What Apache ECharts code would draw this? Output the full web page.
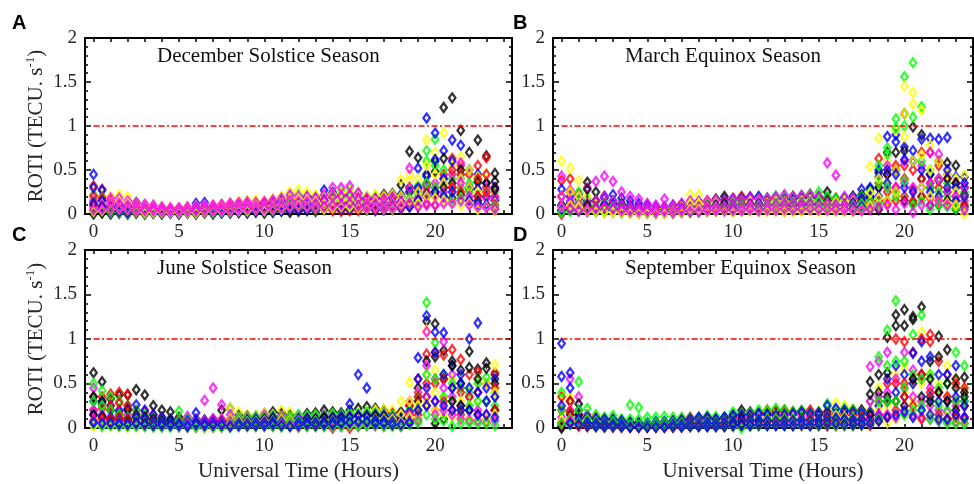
<!DOCTYPE html>
<html>
<head>
<meta charset="utf-8">
<script src="https://cdn.jsdelivr.net/npm/echarts@6/dist/echarts.min.js"></script>
<style>
  html, body { margin: 0; padding: 0; background: #fff; }
  #chart { width: 974px; height: 484px; }
</style>
</head>
<body>
<div id="chart"></div>
<script>
// half-hour time steps (UT)
const hours = [0, 0.5, 1, 1.5, 2, 2.5, 3, 3.5, 4, 4.5, 5, 5.5, 6, 6.5, 7, 7.5,
  8, 8.5, 9, 9.5, 10, 10.5, 11, 11.5, 12, 12.5, 13, 13.5, 14, 14.5, 15, 15.5,
  16, 16.5, 17, 17.5, 18, 18.5, 19, 19.5, 20, 20.5, 21, 21.5, 22, 22.5, 23, 23.5]
const hourTicks = [0, 1, 2, 3, 4, 5, 6, 7, 8, 9, 10, 11, 12, 13, 14, 15, 16, 17, 18, 19, 20, 21, 22, 23, 24]
const xLabels = [0, 5, 10, 15, 20]
const threshold = 1

// December solstice season
const decBlack = [
  [0.08, 0.06, 0.05, 0.04, 0.06, 0.13, 0.08, 0.06, 0.05, 0.04, 0.04, 0.05, 0.05, 0.06, 0.05, 0.06,
   0.07, 0.08, 0.08, 0.09, 0.1, 0.12, 0.13, 0.14, 0.15, 0.14, 0.17, 0.2, 0.19, 0.22, 0.22, 0.18,
   0.17, 0.19, 0.22, 0.23, 0.33, 0.71, 0.64, 0.33, 0.6, 1.21, 1.32, 0.95, 0.7, 0.84, 0.66, 0.46],
  [0.03, 0.02, 0.03, 0.02, 0.03, 0.04, 0.03, 0.02, 0.02, 0.03, 0.02, 0.03, 0.02, 0.03, 0.03, 0.02,
   0.03, 0.04, 0.03, 0.05, 0.04, 0.06, 0.07, 0.08, 0.08, 0.07, 0.09, 0.1, 0.12, 0.14, 0.13, 0.11,
   0.1, 0.09, 0.12, 0.14, 0.2, 0.3, 0.25, 0.45, 0.48, 0.63, 0.35, 0.5, 0.28, 0.36, 0.35, 0.37],
  [0, 0.01, 0, 0.01, 0, 0.01, 0, 0.01, 0, 0.01, 0, 0.01, 0, 0.01, 0, 0.01,
   0.01, 0.02, 0.01, 0.02, 0.01, 0.02, 0.03, 0.02, 0.03, 0.04, 0.03, 0.05, 0.06, 0.05, 0.07, 0.06,
   0.05, 0.06, 0.05, 0.07, 0.08, 0.1, 0.15, 0.2, 0.25, 0.3, 0.18, 0.22, 0.12, 0.15, 0.1, 0.28]
]
const decRed = [
  [0.32, 0.28, 0.15, 0.12, 0.1, 0.08, 0.07, 0.06, 0.05, 0.05, 0.06, 0.05, 0.06, 0.07, 0.08, 0.1,
   0.12, 0.1, 0.11, 0.12, 0.13, 0.15, 0.14, 0.16, 0.18, 0.2, 0.17, 0.18, 0.2, 0.22, 0.15, 0.18,
   0.16, 0.17, 0.2, 0.18, 0.2, 0.25, 0.28, 0.35, 0.3, 0.45, 0.63, 0.55, 0.45, 0.55, 0.64, 0.3],
  [0.2, 0.18, 0.08, 0.06, 0.04, 0.03, 0.03, 0.02, 0.02, 0.03, 0.02, 0.03, 0.03, 0.04, 0.05, 0.06,
   0.07, 0.06, 0.07, 0.08, 0.09, 0.1, 0.08, 0.1, 0.12, 0.1, 0.09, 0.12, 0.1, 0.06, 0.05, 0.08,
   0.09, 0.1, 0.12, 0.1, 0.12, 0.14, 0.18, 0.25, 0.2, 0.35, 0.5, 0.45, 0.3, 0.4, 0.45, 0.2],
  [0.1, 0.08, 0.04, 0.02, 0.02, 0.01, 0.01, 0.01, 0.01, 0.01, 0.01, 0.01, 0.01, 0.02, 0.02, 0.03,
   0.03, 0.02, 0.03, 0.04, 0.04, 0.05, 0.04, 0.05, 0.06, 0.05, 0.05, 0.06, 0.04, 0.03, 0.04, 0.04,
   0.05, 0.04, 0.06, 0.05, 0.06, 0.08, 0.1, 0.12, 0.1, 0.2, 0.3, 0.25, 0.15, 0.2, 0.25, 0.1]
]
const decGreen = [
  [0.22, 0.2, 0.12, 0.1, 0.08, 0.06, 0.05, 0.05, 0.04, 0.04, 0.05, 0.04, 0.06, 0.07, 0.06, 0.08,
   0.09, 0.1, 0.11, 0.12, 0.13, 0.14, 0.16, 0.2, 0.22, 0.2, 0.18, 0.2, 0.25, 0.26, 0.28, 0.24,
   0.2, 0.2, 0.18, 0.2, 0.22, 0.28, 0.32, 0.72, 0.85, 0.5, 0.4, 0.45, 0.35, 0.38, 0.3, 0.25],
  [0.12, 0.1, 0.06, 0.05, 0.04, 0.03, 0.03, 0.02, 0.02, 0.02, 0.03, 0.02, 0.03, 0.04, 0.03, 0.05,
   0.05, 0.06, 0.06, 0.07, 0.08, 0.08, 0.1, 0.12, 0.14, 0.12, 0.1, 0.12, 0.15, 0.16, 0.18, 0.15,
   0.12, 0.13, 0.1, 0.12, 0.14, 0.18, 0.22, 0.6, 0.55, 0.35, 0.3, 0.3, 0.25, 0.22, 0.2, 0.15],
  [0.05, 0.04, 0.02, 0.02, 0.01, 0.01, 0.01, 0.01, 0.01, 0.01, 0.01, 0.01, 0.01, 0.02, 0.01, 0.02,
   0.02, 0.03, 0.03, 0.03, 0.04, 0.04, 0.05, 0.06, 0.07, 0.06, 0.05, 0.06, 0.08, 0.08, 0.09, 0.07,
   0.06, 0.07, 0.05, 0.06, 0.07, 0.1, 0.12, 0.35, 0.3, 0.2, 0.15, 0.18, 0.12, 0.1, 0.1, 0.08]
]
const decBlue = [
  [0.45, 0.27, 0.12, 0.1, 0.08, 0.07, 0.06, 0.05, 0.05, 0.04, 0.06, 0.07, 0.12, 0.13, 0.08, 0.07,
   0.08, 0.09, 0.1, 0.11, 0.12, 0.12, 0.14, 0.15, 0.16, 0.18, 0.2, 0.27, 0.24, 0.22, 0.2, 0.22,
   0.18, 0.17, 0.18, 0.2, 0.22, 0.25, 0.52, 1.09, 0.92, 0.72, 0.84, 0.78, 0.5, 0.45, 0.35, 0.3],
  [0.3, 0.15, 0.08, 0.06, 0.05, 0.04, 0.04, 0.03, 0.03, 0.03, 0.03, 0.04, 0.06, 0.07, 0.05, 0.04,
   0.05, 0.05, 0.06, 0.06, 0.07, 0.07, 0.08, 0.09, 0.1, 0.1, 0.12, 0.15, 0.14, 0.12, 0.12, 0.13,
   0.11, 0.1, 0.1, 0.12, 0.14, 0.15, 0.3, 0.43, 0.62, 0.4, 0.6, 0.4, 0.3, 0.28, 0.2, 0.15],
  [0.12, 0.08, 0.04, 0.03, 0.02, 0.02, 0.02, 0.01, 0.01, 0.01, 0.01, 0.02, 0.03, 0.03, 0.02, 0.02,
   0.02, 0.02, 0.03, 0.03, 0.03, 0.04, 0.04, 0.05, 0.05, 0.05, 0.06, 0.07, 0.07, 0.06, 0.06, 0.07,
   0.06, 0.05, 0.05, 0.06, 0.07, 0.08, 0.15, 0.22, 0.25, 0.2, 0.25, -0.01, 0.15, 0.12, 0.1, 0.05]
]
const decYellow = [
  [0.15, 0.18, 0.2, 0.22, 0.2, 0.12, 0.1, 0.09, 0.08, 0.07, 0.07, 0.08, 0.09, 0.1, 0.1, 0.11,
   0.12, 0.14, 0.15, 0.16, 0.15, 0.17, 0.2, 0.25, 0.27, 0.25, 0.22, 0.2, 0.22, 0.24, 0.26, 0.22,
   0.2, 0.22, 0.2, 0.22, 0.39, 0.45, 0.4, 0.84, 0.7, 0.92, 0.55, 0.65, 0.5, 0.42, 0.45, 0.2],
  [0.08, 0.1, 0.12, 0.14, 0.12, 0.07, 0.06, 0.05, 0.04, 0.04, 0.04, 0.05, 0.05, 0.06, 0.06, 0.07,
   0.07, 0.08, 0.09, 0.1, 0.09, 0.1, 0.12, 0.15, 0.17, 0.16, 0.14, 0.12, 0.14, 0.15, 0.16, 0.13,
   0.12, 0.14, 0.12, 0.13, 0.2, 0.38, 0.25, 0.55, 0.45, 0.35, 0.3, 0.4, 0.3, 0.25, 0.25, 0.12],
  [0.03, 0.04, 0.05, 0.06, 0.05, 0.03, 0.02, 0.02, 0.02, 0.02, 0.02, 0.02, 0.02, 0.03, 0.03, 0.03,
   0.03, 0.04, 0.04, 0.05, 0.04, 0.05, 0.06, 0.08, 0.09, 0.08, 0.07, 0.06, 0.07, 0.08, 0.08, 0.07,
   0.06, 0.07, 0.06, 0.06, 0.1, 0.15, 0.12, 0.2, 0.18, 0.15, 0.12, 0.1, 0.12, 0.05, 0.08, 0.04]
]
const decMagenta = [
  [0.15, 0.16, 0.18, 0.18, 0.15, 0.12, 0.11, 0.1, 0.08, 0.07, 0.07, 0.08, 0.09, 0.1, 0.1, 0.11,
   0.12, 0.13, 0.14, 0.13, 0.14, 0.16, 0.18, 0.22, 0.2, 0.2, 0.18, 0.22, 0.3, 0.3, 0.32, 0.24,
   0.18, 0.17, 0.17, 0.19, 0.2, 0.52, 0.25, 0.3, 0.35, 0.4, 0.45, 0.58, 0.3, 0.28, 0.3, 0.28],
  [0.1, 0.1, 0.12, 0.12, 0.1, 0.08, 0.07, 0.06, 0.05, 0.05, 0.05, 0.05, 0.06, 0.07, 0.07, 0.07,
   0.08, 0.09, 0.1, 0.09, 0.1, 0.11, 0.12, 0.15, 0.14, 0.14, 0.12, 0.15, 0.2, 0.2, 0.22, 0.17,
   0.12, 0.12, 0.12, 0.13, 0.14, 0.3, 0.17, 0.2, 0.22, 0.25, 0.3, 0.35, 0.2, 0.2, 0.18, 0.18],
  [0.05, 0.05, 0.06, 0.06, 0.05, 0.04, 0.04, 0.04, 0.03, 0.03, 0.03, 0.03, 0.03, 0.04, 0.04, 0.04,
   0.04, 0.05, 0.06, 0.05, 0.06, 0.06, 0.07, 0.08, 0.08, 0.08, 0.07, 0.08, 0.1, 0.1, 0.12, 0.09,
   0.07, 0.07, 0.06, 0.07, 0.08, 0.12, 0.08, 0.1, 0.1, 0.12, 0.12, 0.15, 0.1, 0.08, 0.07, 0.06]
]

// March equinox season
const marBlack = [
  [0.2, 0.25, 0.22, 0.36, 0.25, 0.2, 0.15, 0.12, 0.1, 0.08, 0.06, 0.06, 0.07, 0.08, 0.1, 0.12,
   0.14, 0.15, 0.17, 0.2, 0.15, 0.16, 0.17, 0.18, 0.15, 0.17, 0.16, 0.2, 0.18, 0.17, 0.18, 0.25,
   0.15, 0.17, 0.2, 0.22, 0.28, 0.47, 0.7, 0.7, 1.14, 0.99, 0.9, 0.45, 0.6, 0.58, 0.55, 0.3],
  [0.1, 0.12, 0.1, 0.28, 0.15, 0.1, 0.08, 0.06, 0.05, 0.04, 0.03, 0.03, 0.04, 0.05, 0.06, 0.07,
   0.08, 0.09, 0.1, 0.12, 0.08, 0.1, 0.1, 0.11, 0.1, 0.1, 0.09, 0.12, 0.1, 0.1, 0.11, 0.15,
   0.09, 0.1, 0.12, 0.14, 0.18, 0.3, 0.45, 0.5, 0.72, 0.6, 0.4, 0.3, 0.38, 0.4, 0.35, 0.22],
  [0.04, 0.05, 0.04, 0.1, 0.06, 0.04, 0.03, 0.02, 0.02, 0.01, 0.01, 0.01, 0.02, 0.02, 0.02, 0.03,
   0.03, 0.04, 0.04, 0.05, 0.04, 0.04, 0.05, 0.05, 0.04, 0.05, 0.04, 0.05, 0.04, 0.05, 0.05, 0.06,
   0.04, 0.05, 0.06, 0.06, 0.08, 0.05, 0.15, 0.25, 0.15, 0.12, 0.2, 0.1, 0.1, 0.15, 0.05, 0.08]
]
const marRed = [
  [0.38, 0.4, 0.2, 0.15, 0.15, 0.12, 0.1, 0.1, 0.08, 0.07, 0.06, 0.05, 0.05, 0.06, 0.08, 0.1,
   0.12, 0.14, 0.15, 0.16, 0.18, 0.2, 0.19, 0.18, 0.16, 0.15, 0.14, 0.15, 0.18, 0.2, 0.18, 0.15,
   0.18, 0.15, 0.16, 0.18, 0.2, 0.63, 0.45, 0.55, 0.55, 0.5, 0.7, 0.7, 0.55, 0.45, 0.35, 0.3],
  [0.2, 0.25, 0.12, 0.08, 0.08, 0.06, 0.05, 0.05, 0.04, 0.03, 0.03, 0.02, 0.03, 0.03, 0.04, 0.05,
   0.06, 0.07, 0.08, 0.09, 0.1, 0.12, 0.11, 0.1, 0.09, 0.08, 0.08, 0.09, 0.1, 0.12, 0.1, 0.08,
   0.1, 0.08, 0.09, 0.1, 0.12, 0.35, 0.25, 0.3, 0.4, 0.28, 0.4, 0.35, 0.3, 0.25, 0.2, 0.2],
  [0, 0.08, 0.05, 0.03, 0.03, 0.02, 0.02, 0.02, 0.01, 0.01, 0.01, 0.01, 0.01, 0.01, 0.02, 0.02,
   0.03, 0.03, 0.04, 0.04, 0.05, 0.05, 0.05, 0.04, 0.04, 0.04, 0.03, 0.04, 0.05, 0.05, 0.05, 0.04,
   0.05, 0.04, 0.04, 0.05, 0.06, 0.15, 0.12, 0.15, 0.2, 0.15, 0.2, 0.18, 0.15, 0.12, 0.1, 0.1]
]
const marGreen = [
  [0.1, 0.12, 0.25, 0.18, 0.15, 0.12, 0.15, 0.1, 0.08, 0.06, 0.06, 0.05, 0.06, 0.07, 0.08, 0.1,
   0.12, 0.13, 0.15, 0.14, 0.15, 0.16, 0.15, 0.17, 0.18, 0.2, 0.2, 0.2, 0.21, 0.23, 0.25, 0.2,
   0.18, 0.16, 0.18, 0.2, 0.25, 0.55, 0.75, 1.08, 1.56, 1.72, 1.22, 0.5, 0.4, 0.35, 0.3, 0.25],
  [0.05, 0.06, 0.12, 0.1, 0.08, 0.06, 0.08, 0.05, 0.04, 0.03, 0.03, 0.03, 0.03, 0.04, 0.04, 0.05,
   0.06, 0.07, 0.08, 0.08, 0.09, 0.1, 0.09, 0.1, 0.1, 0.12, 0.12, 0.12, 0.13, 0.14, 0.15, 0.12,
   0.1, 0.09, 0.1, 0.12, 0.15, 0.35, 0.68, 0.98, 1.0, 1.1, 0.6, 0.3, 0.25, 0.2, 0.15, 0.12],
  [0.02, 0.03, 0.05, 0.04, 0.03, 0.03, 0.03, 0.02, 0.02, 0.01, 0.01, 0.01, 0.01, 0.02, 0.02, 0.02,
   0.03, 0.03, 0.04, 0.04, 0.04, 0.05, 0.04, 0.05, 0.05, 0.06, 0.06, 0.06, 0.06, 0.07, 0.07, 0.06,
   0.05, 0.04, 0.05, 0.06, 0.07, 0.12, 0.3, 0.2, 0.38, 0.1, 0.15, 0.05, 0.1, 0.08, 0.06, 0.05]
]
const marBlue = [
  [0.28, 0.2, 0.17, 0.14, 0.15, 0.18, 0.22, 0.18, 0.15, 0.12, 0.1, 0.08, 0.08, 0.1, 0.11, 0.13,
   0.13, 0.14, 0.15, 0.16, 0.17, 0.18, 0.19, 0.2, 0.18, 0.2, 0.18, 0.17, 0.2, 0.18, 0.2, 0.18,
   0.17, 0.18, 0.2, 0.28, 0.3, 0.5, 0.88, 0.9, 0.76, 0.72, 0.85, 0.86, 0.85, 0.87, 0.42, 0.42],
  [0.1, 0.12, 0.1, 0.08, 0.08, 0.1, 0.12, 0.1, 0.08, 0.06, 0.05, 0.04, 0.04, 0.05, 0.06, 0.07,
   0.07, 0.08, 0.09, 0.09, 0.1, 0.1, 0.11, 0.12, 0.1, 0.11, 0.1, 0.1, 0.12, 0.1, 0.11, 0.1,
   0.1, 0.1, 0.12, 0.18, 0.2, 0.42, 0.5, 0.82, 0.62, 0.6, 0.5, 0.45, 0.4, 0.5, 0.3, 0.35],
  [0.04, 0.05, 0.04, 0.03, 0.03, 0.04, 0.05, 0.04, 0.03, 0.02, 0.02, 0.02, 0.02, 0.02, 0.03, 0.03,
   0.03, 0.04, 0.04, 0.04, 0.05, 0.05, 0.05, 0.06, 0.05, 0.05, 0.05, 0.05, 0.06, 0.05, 0.05, 0.05,
   0.05, 0.05, 0.06, 0.08, 0.1, 0.2, 0.35, 0.45, 0.3, 0.25, 0.3, 0.25, 0.2, 0.3, 0.15, 0.2]
]
const marYellow = [
  [0.6, 0.52, 0.38, 0.2, 0.12, 0.1, 0.08, 0.07, 0.06, 0.05, 0.05, 0.05, 0.06, 0.07, 0.08, 0.22,
   0.22, 0.15, 0.14, 0.12, 0.1, 0.12, 0.15, 0.14, 0.12, 0.15, 0.14, 0.13, 0.15, 0.16, 0.14, 0.15,
   0.14, 0.15, 0.14, 0.16, 0.54, 0.86, 0.6, 0.95, 1.45, 1.38, 1.18, 0.78, 0.6, 0.45, 0.4, 0.44],
  [0.2, 0.25, 0.2, 0.1, 0.06, 0.05, 0.04, 0.04, 0.03, 0.03, 0.03, 0.03, 0.03, 0.04, 0.04, 0.12,
   0.12, 0.08, 0.07, 0.06, 0.05, 0.06, 0.08, 0.07, 0.06, 0.08, 0.07, 0.06, 0.07, 0.08, 0.07, 0.08,
   0.07, 0.08, 0.07, 0.08, 0.24, 0.4, 0.35, 0.5, 1.14, 1.25, 0.67, 0.5, 0.4, 0.3, 0.25, 0.2],
  [0.08, 0.1, 0.08, 0.04, 0.03, 0.02, 0.02, 0.02, 0.01, 0.01, 0.01, 0.01, 0.01, 0.02, 0.02, 0.05,
   0.05, 0.03, 0.03, 0.03, 0.02, 0.03, 0.04, 0.03, 0.03, 0.04, 0.03, 0.03, 0.03, 0.04, 0.03, 0.04,
   0.03, 0.04, 0.03, 0.04, 0.1, 0.18, 0.15, 0.25, 0.88, 0.6, 0.3, 0.2, 0.15, 0.12, 0.1, 0]
]
const marMagenta = [
  [0.43, 0.27, 0.2, 0.3, 0.37, 0.43, 0.37, 0.25, 0.2, 0.17, 0.12, 0.1, 0.17, 0.1, 0.12, 0.15,
   0.14, 0.15, 0.16, 0.15, 0.17, 0.16, 0.18, 0.17, 0.18, 0.19, 0.22, 0.2, 0.21, 0.22, 0.2, 0.58,
   0.44, 0.2, 0.18, 0.16, 0.18, 0.3, 0.55, 0.5, 0.6, 0.6, 0.55, 0.7, 0.68, 0.4, 0.35, 0.3],
  [0.2, 0.15, 0.1, 0.12, 0.15, 0.2, 0.15, 0.1, 0.08, 0.07, 0.06, 0.05, 0.08, 0.05, 0.06, 0.07,
   0.07, 0.08, 0.08, 0.08, 0.09, 0.08, 0.1, 0.09, 0.1, 0.1, 0.12, 0.11, 0.12, 0.12, 0.1, 0.12,
   0.1, 0.1, 0.09, 0.08, 0.1, 0.15, 0.3, 0.3, 0.35, 0.3, 0.3, 0.35, 0.4, 0.25, 0.2, 0.15],
  [0.08, 0.06, 0.04, 0.05, 0.06, 0.08, 0.06, 0.04, 0.03, 0.03, 0.03, 0.02, 0.03, 0.02, 0.03, 0.03,
   0.03, 0.04, 0.04, 0.04, 0.04, 0.04, 0.05, 0.04, 0.05, 0.05, 0.06, 0.05, 0.06, 0.06, 0.05, 0.05,
   0.05, 0.05, 0.04, 0.04, 0.05, 0.08, 0.1, 0.05, 0.12, 0.02, 0.1, 0.1, 0.15, 0.1, -0.01, 0.05]
]

// June solstice season
const junBlack = [
  [0.62, 0.52, 0.33, 0.37, 0.37, 0.43, 0.37, 0.25, 0.2, 0.18, 0.12, 0.1, 0.1, 0.09, 0.1, 0.2,
   0.22, 0.15, 0.14, 0.13, 0.16, 0.18, 0.17, 0.15, 0.14, 0.16, 0.17, 0.2, 0.18, 0.17, 0.2, 0.22,
   0.24, 0.22, 0.2, 0.17, 0.18, 0.25, 0.45, 1.2, 1.17, 0.87, 0.75, 0.65, 0.86, 0.66, 0.73, 0.6],
  [0.35, 0.3, 0.2, 0.15, 0.2, 0.15, 0.12, 0.1, 0.08, 0.08, 0.06, 0.05, 0.05, 0.05, 0.06, 0.08,
   0.1, 0.08, 0.08, 0.08, 0.09, 0.1, 0.1, 0.09, 0.08, 0.09, 0.1, 0.12, 0.1, 0.1, 0.12, 0.13,
   0.14, 0.13, 0.12, 0.1, 0.1, 0.15, 0.3, 0.75, 0.8, 0.55, 0.7, 0.5, 0.68, 0.55, 0.67, 0.5],
  [0.15, 0.12, 0.08, 0.05, 0.08, 0.06, 0.05, 0.04, 0.03, 0.03, 0.02, 0.02, 0.02, 0.02, 0.03, 0.03,
   0.04, 0.03, 0.03, 0.03, 0.04, 0.04, 0.04, 0.04, 0.03, 0.04, 0.04, 0.05, 0.04, 0.04, 0.05, 0.05,
   0.06, 0.05, 0.05, 0.04, 0.04, 0.06, 0.1, 0.35, 0.05, 0.1, 0.3, 0.25, 0.2, 0.15, -0.01, 0.2]
]
const junRed = [
  [0.35, 0.35, 0.38, 0.4, 0.38, 0.2, 0.18, 0.15, 0.12, 0.1, 0.1, 0.08, 0.07, 0.06, 0.07, 0.08,
   0.08, 0.1, 0.1, 0.12, 0.12, 0.1, 0.12, 0.11, 0.1, 0.12, 0.12, 0.13, 0.14, 0.12, 0.14, 0.15,
   0.15, 0.16, 0.15, 0.17, 0.12, 0.25, 0.55, 0.83, 0.85, 0.82, 0.88, 0.77, 0.6, 0.63, 0.5, 0.62],
  [0.2, 0.22, 0.25, 0.28, 0.25, 0.12, 0.1, 0.08, 0.06, 0.05, 0.05, 0.04, 0.04, 0.03, 0.04, 0.04,
   0.04, 0.05, 0.05, 0.06, 0.06, 0.05, 0.06, 0.06, 0.05, 0.06, 0.06, 0.07, 0.07, 0.06, 0.07, 0.08,
   0.08, 0.08, 0.08, 0.09, 0.06, 0.15, 0.35, 0.5, 0.5, 0.55, 0.45, 0.4, 0.35, 0.4, 0.3, 0.45],
  [0.08, 0.1, 0.1, 0.12, 0.1, 0.05, 0.04, 0.03, 0.02, 0.02, 0.02, 0.01, 0.01, 0.01, 0.01, 0.01,
   0.01, 0.02, 0.02, 0.02, 0.02, 0.02, 0.02, 0.02, 0.01, 0.02, 0.02, 0.02, 0, 0.02, 0, 0.02,
   0.03, 0.03, 0.02, 0.03, 0.02, 0.08, 0.15, 0.25, 0.2, 0.3, 0.2, 0.15, 0.1, 0.15, 0.1, 0.2]
]
const junGreen = [
  [0.5, 0.42, 0.35, 0.3, 0.25, 0.2, 0.15, 0.12, 0.1, 0.1, 0.19, 0.1, 0.08, 0.08, 0.07, 0.08,
   0.1, 0.12, 0.12, 0.13, 0.12, 0.14, 0.12, 0.13, 0.15, 0.14, 0.15, 0.14, 0.16, 0.15, 0.17, 0.16,
   0.18, 0.17, 0.15, 0.14, 0.12, 0.2, 0.35, 1.41, 0.96, 0.6, 0.5, 0.45, 0.4, 0.5, 0.57, 0.4],
  [0.3, 0.25, 0.2, 0.15, 0.12, 0.1, 0.08, 0.06, 0.05, 0.05, 0.08, 0.05, 0.04, 0.04, 0.03, 0.04,
   0.05, 0.06, 0.06, 0.07, 0.06, 0.07, 0.06, 0.07, 0.08, 0.07, 0.08, 0.07, 0.08, 0.08, 0.09, 0.08,
   0.09, 0.09, 0.08, 0.07, 0.06, 0.1, 0.2, 0.6, 0.55, 0.35, 0.3, 0.2, 0.25, 0.3, 0.3, 0.25],
  [0.05, 0.02, 0.03, 0.02, 0.02, 0.02, 0.02, 0.01, 0.01, 0.01, 0.02, 0.01, 0.01, 0.01, 0.01, 0.01,
   0.01, 0.02, 0.02, 0.02, 0.02, 0.02, 0.01, 0.02, 0.02, 0.02, 0.02, 0.02, 0.02, 0.02, 0.03, 0.02,
   0.03, 0.03, 0.02, 0.02, 0.02, 0.04, 0.06, 0.15, 0.1, 0.08, 0.02, 0.05, 0.06, 0.05, 0.05, 0.03]
]
const junBlue = [
  [0.3, 0.27, 0.25, 0.2, 0.22, 0.26, 0.2, 0.15, 0.12, 0.1, 0.08, 0.08, 0.17, 0.08, 0.08, 0.07,
   0.06, 0.08, 0.09, 0.1, 0.1, 0.12, 0.1, 0.05, 0.1, 0.11, 0.1, 0.12, 0.12, 0.13, 0.27, 0.6,
   0.45, 0.15, 0.14, 0.12, 0.12, 0.18, 0.79, 1.26, 1.08, 1.07, 0.7, 0.6, 1.0, 1.18, 0.45, 0.55],
  [0.15, 0.13, 0.12, 0.1, 0.1, 0.12, 0.1, 0.07, 0.06, 0.05, 0.05, 0.04, 0.07, 0.05, 0.05, 0.05,
   0.04, 0.05, 0.05, 0.06, 0.06, 0.07, 0.06, 0.04, 0.06, 0.07, 0.06, 0.07, 0.07, 0.08, 0.12, 0.14,
   0.13, 0.09, 0.08, 0.07, 0.07, 0.1, 0.55, 0.45, 0.85, 0.6, 0.45, 0.5, 0.45, 0.4, 0.3, 0.35],
  [0.06, 0.05, 0.05, 0.04, 0.04, 0.05, 0.04, 0.03, 0.03, 0.03, 0.03, 0.02, 0.04, 0.03, 0.03, 0.03,
   0.02, 0.03, 0.03, 0.03, 0.03, 0.04, 0.03, 0.02, 0.03, 0.04, 0.03, 0.04, 0.04, 0.05, 0.06, 0.07,
   0.07, 0.05, 0.05, 0.04, 0.04, 0.06, 0.2, 0.25, 0.3, 0.25, 0.2, 0.2, 0.2, 0.15, 0.15, 0.12]
]
const junYellow = [
  [0.1, 0.08, 0.08, 0.07, 0.06, 0.07, 0.1, 0.12, 0.1, 0.08, 0.07, 0.08, 0.08, 0.07, 0.08, 0.1,
   0.22, 0.18, 0.15, 0.14, 0.16, 0.15, 0.2, 0.18, 0.14, 0.13, 0.12, 0.14, 0.15, 0.14, 0.16, 0.17,
   0.18, 0.2, 0.21, 0.2, 0.3, 0.51, 0.4, 1.1, 0.65, 0.6, 0.55, 0.5, 0.45, 0.55, 0.5, 0.71],
  [0.05, 0.04, 0.04, 0.04, 0.03, 0.04, 0.05, 0.06, 0.05, 0.04, 0.04, 0.04, 0.04, 0.04, 0.04, 0.05,
   0.1, 0.08, 0.07, 0.07, 0.08, 0.08, 0.1, 0.09, 0.07, 0.07, 0.06, 0.07, 0.08, 0.07, 0.08, 0.09,
   0.09, 0.1, 0.1, 0.1, 0.15, 0.3, 0.25, 0.6, 0.4, 0.35, 0.3, 0.3, 0.25, 0.3, 0.3, 0.4],
  [0.02, 0.02, 0.02, 0.02, 0.01, 0.02, 0.02, 0.03, 0.02, 0.02, 0.02, 0.02, 0.02, 0.02, 0.02, 0.02,
   0.04, 0.03, 0.03, 0.03, 0.03, 0.03, 0.04, 0.04, 0.03, 0.03, 0.03, 0.03, 0.03, 0.03, 0.03, 0.04,
   0.04, 0.04, 0.04, 0.04, 0.06, 0.12, 0.1, 0.3, 0.2, 0.15, 0.12, 0.1, 0.1, 0.08, 0.1, 0.15]
]
const junMagenta = [
  [0.45, 0.3, 0.2, 0.18, 0.15, 0.12, 0.1, 0.1, 0.08, 0.08, 0.07, 0.13, 0.1, 0.31, 0.45, 0.26,
   0.15, 0.12, 0.13, 0.12, 0.14, 0.13, 0.14, 0.12, 0.13, 0.12, 0.14, 0.15, 0.14, 0.13, 0.15, 0.14,
   0.15, 0.14, 0.15, 0.13, 0.15, 0.3, 0.4, 1.08, 0.55, 0.97, 0.6, 0.45, 0.35, 0.4, 0.3, 0.35],
  [0.2, 0.15, 0.1, 0.09, 0.08, 0.06, 0.05, 0.05, 0.04, 0.04, 0.04, 0.06, 0.05, 0.08, 0.1, 0.1,
   0.07, 0.06, 0.06, 0.06, 0.07, 0.06, 0.07, 0.06, 0.06, 0.06, 0.07, 0.07, 0.07, 0.06, 0.07, 0.07,
   0.07, 0.07, 0.07, 0.06, 0.07, 0.15, 0.2, 0.7, 0.3, 0.45, 0.35, 0.25, 0.2, 0.2, 0.15, 0.2],
  [0.08, 0.06, 0.04, 0.04, 0.03, 0.03, 0.02, 0.02, 0.02, 0.02, 0.02, 0.03, 0.02, 0.03, 0.04, 0.04,
   0.03, 0.03, 0.03, 0.03, 0.03, 0.03, 0.03, 0.03, 0.03, 0.03, 0.03, 0.03, 0.02, 0.03, 0.03, 0.03,
   0.03, 0.03, 0.03, 0.03, 0.03, 0.06, 0.08, 0.35, 0.15, 0.2, 0.15, 0.1, 0.08, 0.08, 0.06, 0.08]
]

// September equinox season
const sepBlack = [
  [0.05, 0.3, 0.27, 0.12, 0.1, 0.09, 0.1, 0.08, 0.06, 0.05, 0.05, 0.06, 0.06, 0.07, 0.08, 0.1,
   0.1, 0.12, 0.1, 0.12, 0.15, 0.2, 0.18, 0.17, 0.16, 0.18, 0.2, 0.18, 0.19, 0.18, 0.15, 0.18,
   0.15, 0.18, 0.2, 0.2, 0.52, 0.6, 1.02, 1.27, 1.33, 1.25, 1.36, 0.75, 1.03, 0.88, 0.55, 0.57],
  [0.02, 0.15, 0.15, 0.06, 0.05, 0.04, 0.05, 0.04, 0.03, 0.02, 0.02, 0.03, 0.03, 0.03, 0.04, 0.05,
   0.05, 0.06, 0.05, 0.06, 0.08, 0.1, 0.09, 0.08, 0.08, 0.09, 0.1, 0.09, 0.1, 0.09, 0.08, 0.09,
   0.08, 0.09, 0.1, 0.1, 0.38, 0.4, 0.62, 1.15, 1.15, 1.22, 0.6, 0.55, 0.8, 0.5, 0.45, 0.4],
  [0, 0.05, 0.05, 0.02, 0.02, 0.01, 0.02, 0.01, 0.01, 0.01, 0.01, 0.01, 0.01, 0.01, 0.01, 0.02,
   0.02, 0.02, 0.02, 0.02, 0.03, 0.04, 0.03, 0.03, 0.03, 0.03, 0.04, 0.03, 0.04, 0.03, 0.03, 0.03,
   0.03, 0.04, 0.04, 0.04, 0.15, 0.1, 0.35, 0.3, 0.25, 0.55, 0.35, 0.3, 0.4, 0.3, 0.2, 0.35]
]
const sepRed = [
  [0.35, 0.3, 0.12, 0.1, 0.12, 0.1, 0.08, 0.09, 0.07, 0.06, 0.05, 0.06, 0.07, 0.08, 0.1, 0.12,
   0.1, 0.1, 0.09, 0.1, 0.12, 0.15, 0.16, 0.17, 0.2, 0.2, 0.18, 0.17, 0.18, 0.2, 0.18, 0.15,
   0.13, 0.14, 0.15, 0.15, 0.15, 0.3, 0.5, 1.0, 0.97, 0.85, 1.0, 1.05, 0.75, 0.6, 0.5, 0.45],
  [0.2, 0.18, 0.06, 0.05, 0.06, 0.05, 0.04, 0.04, 0.03, 0.03, 0.02, 0.03, 0.03, 0.04, 0.05, 0.06,
   0.05, 0.05, 0.04, 0.05, 0.06, 0.08, 0.08, 0.09, 0.1, 0.1, 0.09, 0.09, 0.09, 0.1, 0.09, 0.08,
   0.07, 0.07, 0.08, 0.08, 0.08, 0.15, 0.3, 0.5, 0.5, 0.55, 0.6, 0.97, 0.4, 0.35, 0.3, 0.25],
  [0.05, 0.06, 0.02, 0.02, 0.02, 0.02, 0.01, 0.01, 0.01, 0.01, 0.01, 0.01, 0.01, 0.01, 0.02, 0.02,
   0.02, 0.02, 0.02, 0.02, 0.02, 0.03, 0.03, 0.03, 0.04, 0.04, 0.03, 0.03, 0.03, 0.04, 0.03, 0.03,
   0.03, 0.03, 0.03, 0.03, 0.03, 0.08, 0.12, 0.2, 0.35, 0.25, 0.1, 0.4, 0.15, 0.1, 0.12, 0.1]
]
const sepGreen = [
  [0.4, 0.18, 0.52, 0.22, 0.15, 0.12, 0.14, 0.1, 0.26, 0.23, 0.12, 0.12, 0.13, 0.12, 0.12, 0.11,
   0.12, 0.14, 0.13, 0.12, 0.18, 0.16, 0.17, 0.2, 0.2, 0.22, 0.2, 0.18, 0.2, 0.17, 0.18, 0.27,
   0.2, 0.22, 0.2, 0.18, 0.3, 0.8, 1.1, 1.43, 0.75, 1.05, 1.27, 0.6, 0.45, 0.5, 0.85, 0.7],
  [0.2, 0.1, 0.2, 0.1, 0.07, 0.06, 0.07, 0.05, 0.1, 0.1, 0.06, 0.06, 0.06, 0.06, 0.06, 0.05,
   0.06, 0.07, 0.06, 0.06, 0.08, 0.07, 0.08, 0.1, 0.1, 0.1, 0.1, 0.09, 0.1, 0.08, 0.09, 0.12,
   0.1, 0.1, 0.1, 0.09, 0.15, 0.3, 0.7, 0.75, 0.45, 0.6, 0.55, 0.3, 0.25, 0.2, 0.3, 0.3],
  [0.05, 0.04, 0.06, 0.03, 0.02, 0.02, 0.02, 0.02, 0.03, 0.03, 0.02, 0.02, 0.02, 0.02, 0.02, 0.02,
   0.02, 0.02, 0.02, 0.02, 0.02, 0, 0.02, 0.03, 0.03, 0.03, 0.03, 0.03, 0.03, 0.03, 0.03, 0.04,
   0.03, 0.03, 0.03, 0.03, 0.05, 0.1, 0.3, 0.3, 0.15, 0.2, 0.25, 0.1, 0.08, 0.05, 0.05, 0.05]
]
const sepBlue = [
  [0.95, 0.62, 0.2, 0.12, 0.1, 0.1, 0.09, 0.08, 0.07, 0.06, 0.06, 0.07, 0.07, 0.08, 0.09, 0.1,
   0.12, 0.12, 0.1, 0.12, 0.14, 0.15, 0.15, 0.16, 0.15, 0.14, 0.15, 0.16, 0.18, 0.16, 0.17, 0.25,
   0.22, 0.2, 0.18, 0.17, 0.18, 0.25, 0.55, 0.7, 0.6, 0.84, 0.97, 0.8, 0.6, 0.6, 0.7, 0.3],
  [0.58, 0.45, 0.1, 0.06, 0.05, 0.05, 0.04, 0.04, 0.03, 0.03, 0.03, 0.03, 0.03, 0.04, 0.04, 0.05,
   0.05, 0.06, 0.05, 0.06, 0.07, 0.08, 0.08, 0.09, 0.08, 0.07, 0.08, 0.08, 0.09, 0.08, 0.09, 0.12,
   0.11, 0.1, 0.09, 0.09, 0.1, 0.14, 0.3, 0.4, 0.35, 0.5, 0.75, 0.35, 0.3, 0.3, 0.35, 0.25],
  [0.25, 0.05, 0.04, 0.03, 0.02, 0.02, 0.02, 0.02, 0.01, 0.01, 0.01, 0.01, 0.01, 0.02, 0.02, 0.02,
   0.02, 0.02, 0.02, 0.02, 0.03, 0.03, 0.03, 0.04, 0.03, 0.03, 0.03, 0.03, 0.04, 0.03, 0.04, 0.05,
   0.05, 0.04, 0.04, 0.04, 0.05, 0.08, 0.12, 0.15, 0.18, 0.12, 0.2, 0.15, 0.1, 0.1, 0.15, 0.12]
]
const sepYellow = [
  [0.35, 0.35, 0.15, 0.1, 0.08, 0.07, 0.06, 0.06, 0.05, 0.05, 0.05, 0.05, 0.06, 0.07, 0.08, 0.1,
   0.1, 0.12, 0.11, 0.12, 0.1, 0.12, 0.14, 0.16, 0.18, 0.2, 0.2, 0.19, 0.18, 0.18, 0.17, 0.2,
   0.28, 0.25, 0.22, 0.2, 0.2, 0.45, 0.25, 0.6, 0.68, 0.5, 1.08, 0.6, 0.5, 0.7, 0.55, 0.45],
  [0.2, 0.2, 0.08, 0.05, 0.04, 0.03, 0.03, 0.03, 0.02, 0.02, 0.02, 0.02, 0.03, 0.03, 0.04, 0.05,
   0.05, 0.06, 0.05, 0.06, 0.05, 0.06, 0.07, 0.08, 0.09, 0.1, 0.1, 0.1, 0.09, 0.09, 0.08, 0.1,
   0.14, 0.12, 0.11, 0.1, 0.1, 0.2, 0.15, 0.3, 0.4, 0.3, 0.5, 0.35, 0.3, 0.35, 0.3, 0.25],
  [0.08, 0.08, 0.03, 0.02, 0.01, 0.01, 0.01, 0.01, 0.01, 0.01, 0.01, 0.01, 0.01, 0.01, 0.02, 0.02,
   0.02, 0.02, 0.02, 0.02, 0.02, 0.02, 0.03, 0.03, 0.04, 0.04, 0.04, 0.04, 0.04, 0.04, 0.03, 0.04,
   0.05, 0.05, 0.04, 0.04, 0.04, 0.08, 0.06, 0.1, 0.15, 0.12, 0.2, 0.15, 0.1, 0.12, 0.1, 0.05]
]
const sepMagenta = [
  [0.12, 0.55, 0.35, 0.15, 0.12, 0.1, 0.08, 0.07, 0.06, 0.05, 0.05, 0.05, 0.06, 0.06, 0.07, 0.08,
   0.08, 0.09, 0.1, 0.1, 0.12, 0.13, 0.12, 0.14, 0.15, 0.14, 0.13, 0.15, 0.14, 0.13, 0.14, 0.15,
   0.16, 0.15, 0.14, 0.2, 0.69, 0.75, 0.85, 0.55, 0.85, 0.65, 0.55, 0.45, 0.4, 0.35, 0.25, 0.25],
  [0.06, 0.2, 0.15, 0.06, 0.05, 0.04, 0.03, 0.03, 0.02, 0.02, 0.02, 0.02, 0.03, 0.03, 0.03, 0.04,
   0.04, 0.04, 0.05, 0.05, 0.06, 0.06, 0.06, 0.07, 0.07, 0.07, 0.06, 0.07, 0.07, 0.06, 0.07, 0.07,
   0.08, 0.07, 0.07, 0.1, 0.3, 0.35, 0.4, 0.3, 0.45, 0.35, 0.3, 0.25, 0.2, 0.18, 0.15, 0.12],
  [0.02, 0.08, 0.05, 0.02, 0.02, 0.01, 0.01, 0.01, 0.01, 0.01, 0.01, 0.01, 0.01, 0.01, 0.01, 0.02,
   0.02, 0.02, 0.02, 0.02, 0.03, 0.03, 0.03, 0.03, 0.03, 0.03, 0.03, 0.03, 0.03, 0.03, 0.03, 0.03,
   0.04, 0.03, 0.03, 0.05, 0.12, 0.15, 0.15, 0.12, 0.2, 0.15, 0.12, 0.1, 0.08, 0.08, 0.06, 0.05]
]

const colors = {
  black: '#000000', red: '#ff0000', green: '#00ff00',
  blue: '#0000ff', yellow: '#ffff00', magenta: '#ff00ff'
}
const serif = 'Liberation Serif'
const textColor = '#262626'

const panels = [
  { letter: 'A', title: 'December Solstice Season', left: 85, top: 38, width: 427, height: 176, xMax: 24.5,
    yName: true, xName: false, order: ['black', 'red', 'green', 'blue', 'yellow', 'magenta'],
    sets: { black: decBlack, red: decRed, green: decGreen, blue: decBlue, yellow: decYellow, magenta: decMagenta } },
  { letter: 'B', title: 'March Equinox Season', left: 553, top: 38, width: 420, height: 176, xMax: 24,
    yName: false, xName: false, order: ['black', 'red', 'blue', 'green', 'yellow', 'magenta'],
    sets: { black: marBlack, red: marRed, green: marGreen, blue: marBlue, yellow: marYellow, magenta: marMagenta } },
  { letter: 'C', title: 'June Solstice Season', left: 85, top: 250, width: 427, height: 178, xMax: 24.5,
    yName: true, xName: true, order: ['black', 'red', 'yellow', 'magenta', 'green', 'blue'],
    sets: { black: junBlack, red: junRed, green: junGreen, blue: junBlue, yellow: junYellow, magenta: junMagenta } },
  { letter: 'D', title: 'September Equinox Season', left: 553, top: 250, width: 420, height: 178, xMax: 24,
    yName: false, xName: true, order: ['yellow', 'magenta', 'black', 'red', 'green', 'blue'],
    sets: { black: sepBlack, red: sepRed, green: sepGreen, blue: sepBlue, yellow: sepYellow, magenta: sepMagenta } }
]

const axisLine = { show: true, onZero: false, lineStyle: { color: '#000', width: 2 } }
const grids = []
const xAxes = []
const yAxes = []
const series = []
const titles = []

panels.forEach((p, i) => {
  grids.push({ left: p.left, top: p.top, width: p.width, height: p.height })
  // bottom x axis with labels
  xAxes.push({
    type: 'value', gridIndex: i, position: 'bottom', min: -0.5, max: p.xMax,
    axisLine: axisLine,
    axisTick: { show: true, inside: true, length: 4, customValues: hourTicks, lineStyle: { color: '#000', width: 1.5 } },
    axisLabel: { customValues: xLabels, margin: 9, fontFamily: serif, fontSize: 19, color: textColor },
    splitLine: { show: false },
    name: p.xName ? 'Universal Time (Hours)' : '',
    nameLocation: 'middle', nameGap: 33,
    nameTextStyle: { fontFamily: serif, fontSize: 21, color: textColor }
  })
  // top x axis (ticks only)
  xAxes.push({
    type: 'value', gridIndex: i, position: 'top', min: -0.5, max: p.xMax,
    axisLine: axisLine,
    axisTick: { show: true, inside: true, length: 4, customValues: hourTicks, lineStyle: { color: '#000', width: 1.5 } },
    axisLabel: { show: false },
    splitLine: { show: false }
  })
  yAxes.push({
    type: 'value', gridIndex: i, position: 'left', min: 0, max: 2, interval: 0.5,
    axisLine: axisLine,
    axisTick: { show: true, inside: true, length: 6, lineStyle: { color: '#000', width: 1.5 } },
    minorTick: { show: true, splitNumber: 5, length: 3, lineStyle: { color: '#000', width: 1.5 } },
    axisLabel: { margin: 8, fontFamily: serif, fontSize: 19, color: textColor },
    splitLine: { show: false },
    name: p.yName ? '{n|ROTI (TECU. s}{s|-1}{n|)}' : '',
    nameLocation: 'middle', nameGap: 37,
    nameTextStyle: {
      rich: {
        n: { fontFamily: serif, fontSize: 21, color: textColor, lineHeight: 24 },
        s: { fontFamily: serif, fontSize: 13, color: textColor, lineHeight: 13, verticalAlign: 'top' }
      }
    }
  })
  yAxes.push({
    type: 'value', gridIndex: i, position: 'right', min: 0, max: 2, interval: 0.5,
    axisLine: axisLine,
    axisTick: { show: true, inside: true, length: 6, lineStyle: { color: '#000', width: 1.5 } },
    minorTick: { show: true, splitNumber: 5, length: 3, lineStyle: { color: '#000', width: 1.5 } },
    axisLabel: { show: false },
    splitLine: { show: false }
  })

  // scatter markers: one series per colour and row, lowest rows drawn last
  for (let r = 0; r < 3; r++) {
    p.order.forEach(c => {
      const vals = p.sets[c][r]
      series.push({
        type: 'scatter',
        xAxisIndex: 2 * i, yAxisIndex: 2 * i,
        symbol: 'diamond', symbolSize: [6.5, 9],
        itemStyle: { color: 'rgba(0,0,0,0)', borderColor: colors[c], borderWidth: 2.3 },
        silent: true,
        data: hours.map((h, k) => [h, vals[k]])
      })
    })
  }
  // threshold line
  series.push({
    type: 'line',
    xAxisIndex: 2 * i, yAxisIndex: 2 * i,
    symbol: 'none', silent: true, z: 5,
    lineStyle: { color: '#ff0000', width: 1.5, type: [6, 2.5, 2, 2.5] },
    data: [[0, threshold], [p.xMax, threshold]]
  })

  titles.push({
    text: p.title, left: p.left + 72, top: p.top + 8, padding: 0,
    textStyle: { fontFamily: serif, fontSize: 21, fontWeight: 'normal', color: '#111' }
  })
  titles.push({
    text: p.letter, left: p.left < 300 ? 12 : 513, top: p.top - 25, padding: 0,
    textStyle: { fontFamily: 'Liberation Sans', fontSize: 20, fontWeight: 'bold', color: '#000' }
  })
})

const chart = echarts.init(document.getElementById('chart'), null, { renderer: 'canvas' })
chart.setOption({
  backgroundColor: '#fff',
  animation: false,
  title: titles,
  grid: grids,
  xAxis: xAxes,
  yAxis: yAxes,
  series: series
})
</script>
</body>
</html>
